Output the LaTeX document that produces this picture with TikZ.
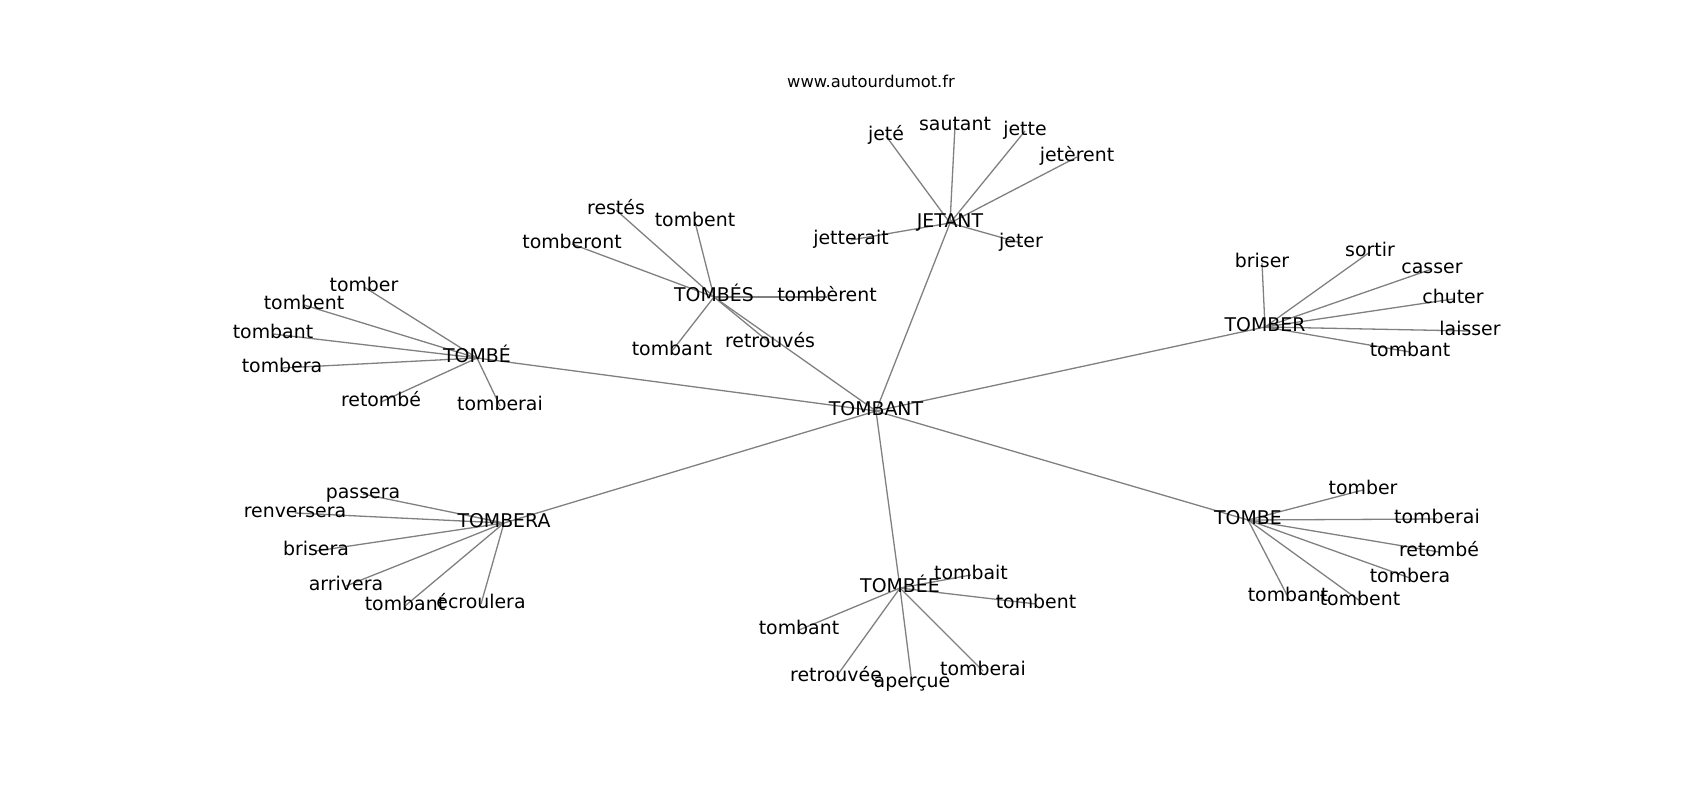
\documentclass[tikz,border=0pt]{standalone}
\usepackage{fontspec}
\setmainfont{DejaVu Sans}
\usetikzlibrary{backgrounds}

\begin{document}
\begin{tikzpicture}[x=1pt,y=-1pt,%
        every node/.style={font=\fontsize{18.9}{21}\selectfont,
        inner sep=0pt,text height=14.4pt,text depth=4.5pt},
        link/.style={color=gray,line width=1.3pt}]

      \useasboundingbox (0,0) rectangle (1700,800);

      \node[font=\fontsize{16.3}{18}\selectfont] (title) at (871,83) {www.autourdumot.fr};

      \node[] (TOMBANT) at (876,411)  {TOMBANT};
      \node[] (TOMBEa)  at (477,358)  {TOMBÉ};
      \node[] (TOMBES)  at (714,297)  {TOMBÉS};
      \node[] (JETANT)  at (950,223)  {JETANT};
      \node[] (TOMBER)  at (1265,327) {TOMBER};
      \node[] (TOMBERA) at (504,523)  {TOMBERA};
      \node[] (TOMBEE)  at (900,588)  {TOMBÉE};
      \node[] (TOMBE)   at (1248,520) {TOMBE};

      % TOMBÉ
      \node[] (tb1) at (364,287) {tomber};
      \node[] (tb2) at (304,305) {tombent};
      \node[] (tb3) at (273,334) {tombant};
      \node[] (tb4) at (282,368) {tombera};
      \node[] (tb5) at (381,402) {retombé};
      \node[] (tb6) at (500,406) {tomberai};

      % TOMBÉS
      \node[] (ts1) at (616,210) {restés};
      \node[] (ts2) at (695,222) {tombent};
      \node[] (ts3) at (572,244) {tomberont};
      \node[] (ts4) at (827,297) {tombèrent};
      \node[] (ts5) at (672,351) {tombant};
      \node[] (ts6) at (770,343) {retrouvés};

      % JETANT
      \node[] (jt1) at (886,136)  {jeté};
      \node[] (jt2) at (955,126)  {sautant};
      \node[] (jt3) at (1025,131) {jette};
      \node[] (jt4) at (1077,157) {jetèrent};
      \node[] (jt5) at (851,240)  {jetterait};
      \node[] (jt6) at (1021,243) {jeter};

      % TOMBER
      \node[] (tr1) at (1262,263) {briser};
      \node[] (tr2) at (1370,252) {sortir};
      \node[] (tr3) at (1432,269) {casser};
      \node[] (tr4) at (1453,299) {chuter};
      \node[] (tr5) at (1470,331) {laisser};
      \node[] (tr6) at (1410,352) {tombant};

      % TOMBERA
      \node[] (ta1) at (363,494) {passera};
      \node[] (ta2) at (295,513) {renversera};
      \node[] (ta3) at (316,551) {brisera};
      \node[] (ta4) at (346,586) {arrivera};
      \node[] (ta5) at (405,606) {tombant};
      \node[] (ta6) at (481,604) {écroulera};

      % TOMBÉE
      \node[] (tee1) at (971,575)  {tombait};
      \node[] (tee2) at (1036,604) {tombent};
      \node[] (tee3) at (799,630)  {tombant};
      \node[] (tee4) at (836,677)  {retrouvée};
      \node[] (tee5) at (912,683)  {aperçue};
      \node[] (tee6) at (983,671)  {tomberai};

      % TOMBE
      \node[] (te1) at (1363,490) {tomber};
      \node[] (te2) at (1437,519) {tomberai};
      \node[] (te3) at (1439,552) {retombé};
      \node[] (te4) at (1410,578) {tombera};
      \node[] (te5) at (1288,597) {tombant};
      \node[] (te6) at (1360,601) {tombent};

      \begin{scope}[on background layer]
      \path[link]
      (TOMBANT.center) edge (TOMBEa.center)
      edge (TOMBES.center)
      edge (JETANT.center)
      edge (TOMBER.center)
      edge (TOMBERA.center)
      edge (TOMBEE.center)
      edge (TOMBE.center);

      \foreach \hub/\pre in {TOMBEa/tb,TOMBES/ts,JETANT/jt,TOMBER/tr,TOMBERA/ta,TOMBEE/tee,TOMBE/te}
        \foreach \i in {1,...,6}
          \path[link] (\hub.center) edge (\pre\i.center);
      \end{scope}

    \end{tikzpicture}
\end{document}
